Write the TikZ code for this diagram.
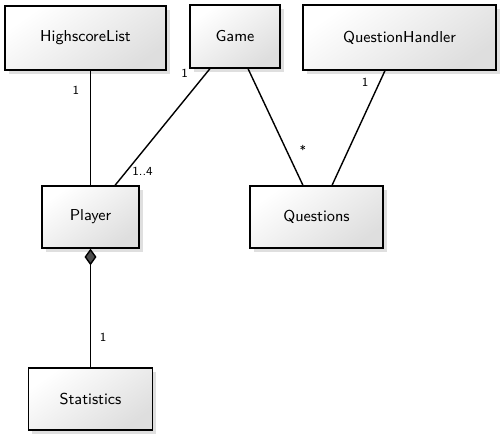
\documentclass[tikz,border=0pt]{standalone}
\usepackage{tikz}
\usetikzlibrary{shadows, arrows.meta}
\tikzstyle{classbox} = [rectangle, minimum height=1.24cm, text centered, draw=black, line width=0.7pt, top color=white, bottom color=black!13, shading angle=35, drop shadow={shadow xshift=2pt, shadow yshift=-2pt, opacity=0.25}, font=\sffamily\small]
\tikzstyle{assoc} = [line width=0.8pt]
\tikzstyle{mult} = [font=\sffamily\scriptsize, inner sep=1pt]
\tikzstyle{comp} = [line width=0.8pt, {Diamond[length=9.5pt, width=6.8pt, fill=black!70]}-]

\begin{document}
\begin{tikzpicture}
                \useasboundingbox (0,0) rectangle (10.02,-8.7);

                \node (highscore) [classbox, minimum width=3.22cm, minimum height=1.28cm] at (1.71,-0.76) {HighscoreList};
                \node (game) [classbox, minimum width=1.8cm, minimum height=1.26cm] at (4.7,-0.73) {Game};
                \node (handler) [classbox, minimum width=3.86cm, minimum height=1.3cm] at (7.99,-0.75) {QuestionHandler};

                \node (player) [classbox, minimum width=1.94cm] at (1.81,-4.34) {Player};
                \node (questions) [classbox, minimum width=2.66cm] at (6.33,-4.34) {Questions};

                \node (statistics) [classbox, minimum width=2.48cm] at (1.81,-7.98) {Statistics};

% ---------------------------------------------
% Associations (top row to middle row)
% ---------------------------------------------
                \draw [assoc] (player.north |- highscore.south) -- (player.north)
                    node [mult, pos=0.17, left=5pt] {1};
                \draw [assoc] ([xshift=-0.5cm]game.south) -- ([xshift=0.49cm]player.north)
                    node [mult, pos=0.04, left=9pt] {1}
                    node [mult, pos=0.88, right=2pt] {1..4};
                \draw [assoc] ([xshift=0.26cm]game.south) -- ([xshift=-0.27cm]questions.north)
                    node [mult, pos=0.7, right=6pt] {*};
                \draw [assoc] ([xshift=-0.29cm]handler.south) -- ([xshift=0.31cm]questions.north)
                    node [mult, pos=0.1, left=5pt] {1};

% ---------------------------------------------
% Composition (Player to Statistics)
% ---------------------------------------------
                \draw [comp] (player.south) -- (statistics.north)
                    node [mult, pos=0.75, right=4pt] {1};
            \end{tikzpicture}
\end{document}
